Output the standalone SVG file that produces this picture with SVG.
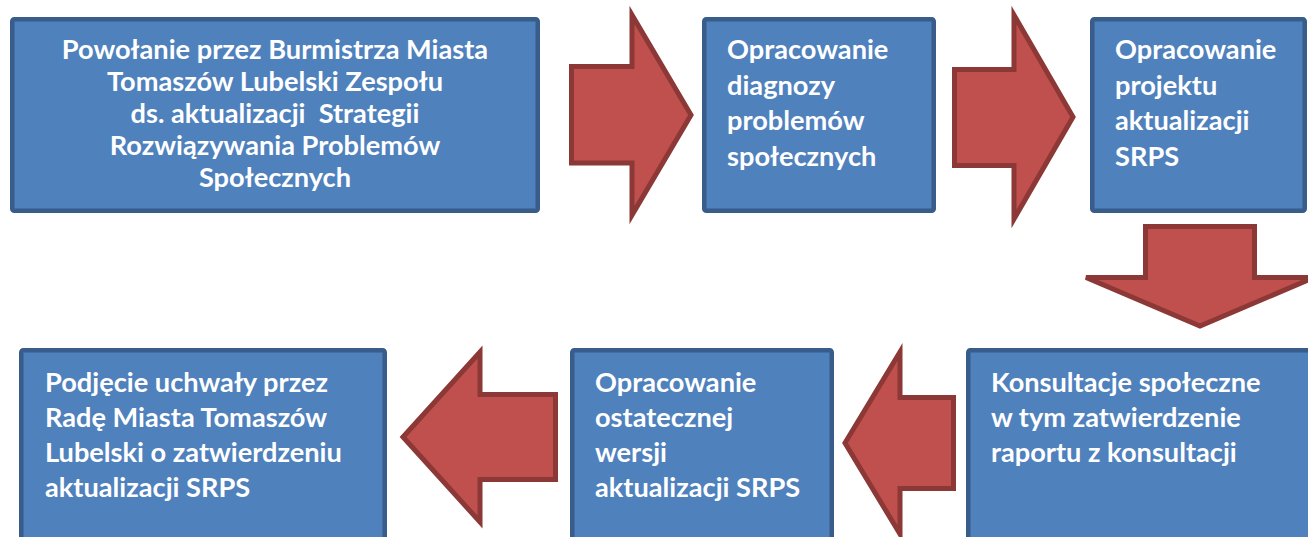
<svg xmlns="http://www.w3.org/2000/svg" width="1308" height="537" viewBox="0 0 1308 537">
<style>
.box{fill:#4F81BD;stroke:#385D8A;stroke-width:4.5}
.arr{fill:#C0504D;stroke:#8C3836;stroke-width:5;stroke-linejoin:miter}
.t{font-family:Lato,"Open Sans","Liberation Sans",sans-serif;font-weight:bold;font-size:27.2px;fill:#FFFFFF}
.c{text-anchor:middle}
</style>
<rect width="1308" height="537" fill="#FFFFFF"/>
<g id="connectors">
<polygon class="arr" points="571.5,66.5 632,66.5 632,15 691,115 632,215 632,163 571.5,163"/>
<polygon class="arr" points="954.5,69.5 1014,69.5 1014,15 1073,117 1014,219 1014,165.5 954.5,165.5"/>
<polygon class="arr" points="1145.5,226.5 1254.5,226.5 1254.5,277.5 1314,277.5 1200,326 1086,277.5 1145.5,277.5"/>
<polygon class="arr" points="555.5,394.5 480,394.5 480,352 403,437 480,522 480,479.5 555.5,479.5"/>
<polygon class="arr" points="953.5,397.5 900,397.5 900,352 845,443 900,534 900,488.5 953.5,488.5"/>
</g>
<g id="n1">
<rect class="box" x="12.25" y="19.25" width="525.5" height="191.5" rx="2"/>
<text class="t c" x="275" y="59">Powołanie przez Burmistrza Miasta</text>
<text class="t c" x="275" y="91">Tomaszów Lubelski Zespołu</text>
<text class="t c" x="275" y="123" xml:space="preserve">ds. aktualizacji  Strategii</text>
<text class="t c" x="275" y="155">Rozwiązywania Problemów</text>
<text class="t c" x="275" y="187">Społecznych</text>
</g>
<g id="n2">
<rect class="box" x="704.25" y="19.25" width="229.5" height="191.5" rx="2"/>
<text class="t" x="727" y="59">Opracowanie</text>
<text class="t" x="727" y="95">diagnozy</text>
<text class="t" x="727" y="130">problemów</text>
<text class="t" x="727" y="166">społecznych</text>
</g>
<g id="n3">
<rect class="box" x="1092.25" y="19.25" width="212.5" height="191.5" rx="2"/>
<text class="t" x="1115" y="59">Opracowanie</text>
<text class="t" x="1115" y="95">projektu</text>
<text class="t" x="1115" y="130">aktualizacji</text>
<text class="t" x="1115" y="166">SRPS</text>
</g>
<g id="n4">
<rect class="box" x="968.25" y="350.25" width="360" height="220" rx="2"/>
<text class="t" x="991" y="392">Konsultacje społeczne</text>
<text class="t" x="991" y="427">w tym zatwierdzenie</text>
<text class="t" x="991" y="462">raportu z konsultacji</text>
</g>
<g id="n5">
<rect class="box" x="572.25" y="350.25" width="259.5" height="220" rx="2"/>
<text class="t" x="595" y="392">Opracowanie</text>
<text class="t" x="595" y="427">ostatecznej</text>
<text class="t" x="595" y="462">wersji</text>
<text class="t" x="595" y="497">aktualizacji SRPS</text>
</g>
<g id="n6">
<rect class="box" x="21.25" y="350.25" width="363.5" height="220" rx="2"/>
<text class="t" x="45" y="392">Podjęcie uchwały przez</text>
<text class="t" x="45" y="427">Radę Miasta Tomaszów</text>
<text class="t" x="45" y="462">Lubelski o zatwierdzeniu</text>
<text class="t" x="45" y="497">aktualizacji SRPS</text>
</g>
</svg>
